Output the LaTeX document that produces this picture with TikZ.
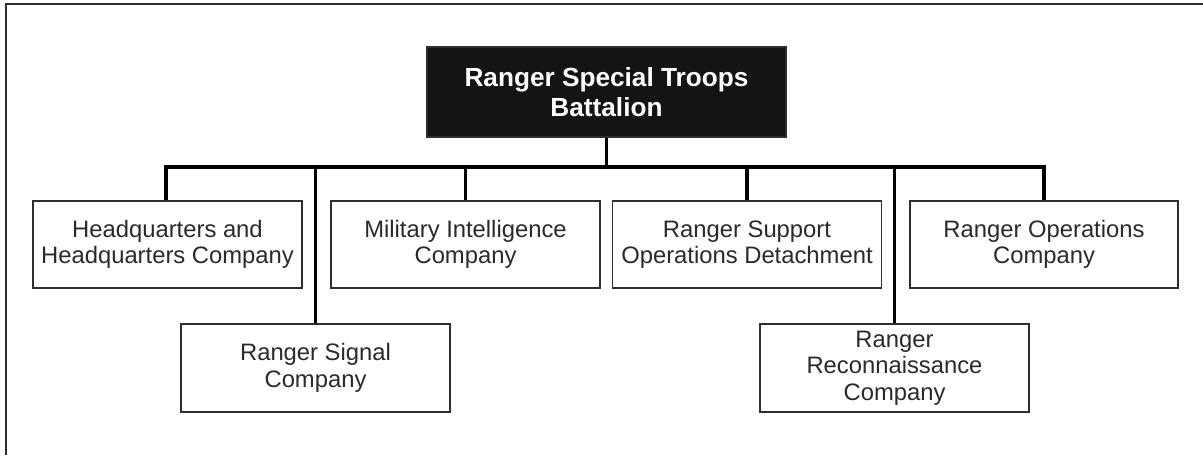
\documentclass[tikz,border=0pt]{standalone}
\usepackage{fontspec}
\setmainfont{Liberation Sans}
\definecolor{boxline}{HTML}{2E2E2E}
\definecolor{txt}{HTML}{2A2A2A}
\definecolor{rootfill}{HTML}{141414}
\begin{document}
\begin{tikzpicture}[x=0.5pt,y=-0.5pt,
  unit/.style={draw=boxline, line width=0.9pt, fill=white, text=txt, align=center,
    inner sep=0pt, minimum height=43.5pt, font=\fontsize{11.9}{13.2}\selectfont},
  rootbox/.style={draw=boxline, line width=0.9pt, fill=rootfill, text=white, align=center,
    inner sep=0pt, minimum width=179.5pt, minimum height=45pt,
    font=\bfseries\fontsize{13.1}{15}\selectfont},
  link/.style={draw=black, line width=1.6pt},
  frame/.style={draw=boxline, line width=1pt}]
\useasboundingbox (0,0) rectangle (1203,455);
\fill[white] (0,0) rectangle (1203,455);
\draw[frame] (6,455) -- (6,4) -- (1203,4);
% nodes
\node[rootbox] (root) at (606.5,92) {Ranger Special Troops\\Battalion};
\node[unit, minimum width=134.5pt] (hq) at (167.5,244.5) {Headquarters and\\Headquarters Company};
\node[unit, minimum width=134.5pt] (mi) at (465.5,244.5) {Military Intelligence\\Company};
\node[unit, minimum width=134.5pt] (rsod) at (747,244.5) {Ranger Support\\Operations Detachment};
\node[unit, minimum width=134pt] (roc) at (1044,244.5) {Ranger Operations\\Company};
\node[unit, minimum width=134.5pt, minimum height=44pt] (sig) at (315.5,368) {Ranger Signal\\Company};
\node[unit, minimum width=134.5pt, minimum height=44pt] (rec) at (894.5,368) {Ranger\\Reconnaissance\\Company};
% connectors
\coordinate (busL) at (166,167);
\coordinate (busR) at (1044,167);
\draw[link] (root.south) -- (root.south |- busL);
\draw[link, line cap=rect] (busL) -- (busR);
\draw[link] (busL) -- (hq.north -| busL);
\draw[link] (mi.north |- busL) -- (mi.north);
\draw[link] (rsod.north |- busL) -- (rsod.north);
\draw[link] (busR) -- (roc.north);
\draw[link] (sig.north |- busL) -- (sig.north);
\draw[link] (rec.north |- busL) -- (rec.north);
\end{tikzpicture}
\end{document}
